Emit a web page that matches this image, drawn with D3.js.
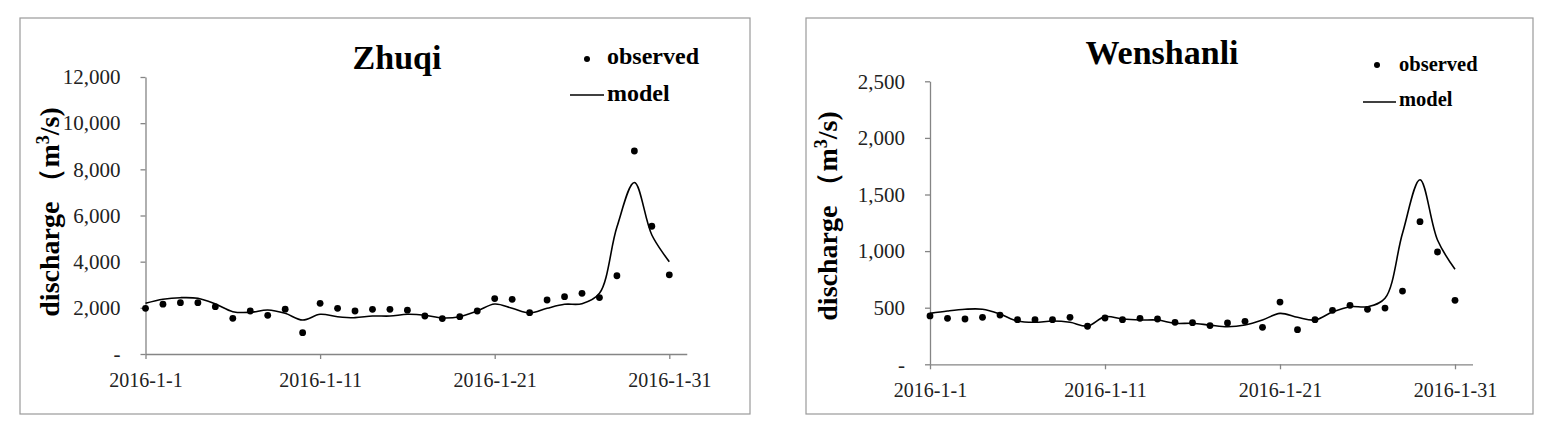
<!DOCTYPE html>
<html>
<head>
<meta charset="utf-8">
<script src="https://cdn.jsdelivr.net/npm/d3@7"></script>
<style>
  html, body { margin: 0; padding: 0; background: #fff; }
  svg { display: block; }
  text { font-family: "Liberation Serif", "Times New Roman", serif; }
</style>
</head>
<body>
<svg id="chart" width="1541" height="431"></svg>
<script>
// ---------- data ----------
const days = [1,2,3,4,5,6,7,8,9,10,11,12,13,14,15,16,17,18,19,20,21,22,23,24,25,26,27,28,29,30,31];
const xTickDays = [1, 11, 21, 31];
const xTickLabels = ["2016-1-1", "2016-1-11", "2016-1-21", "2016-1-31"];

const zhuqiTitle = "Zhuqi";
const zhuqiYTicks = [0, 2000, 4000, 6000, 8000, 10000, 12000];
const zhuqiObserved = [1980, 2160, 2225, 2225, 2050, 1545, 1863, 1675, 1940, 924,
                       2195, 1980, 1863, 1935, 1935, 1900, 1646, 1535, 1617, 1863,
                       2400, 2369, 1791, 2340, 2484, 2628, 2445, 3390, 8795, 5535, 3430];
const zhuqiModel    = [2195, 2369, 2440, 2412, 2166, 1834, 1805, 1906, 1762, 1473,
                       1719, 1617, 1574, 1646, 1646, 1719, 1680, 1560, 1617, 1863,
                       2166, 1979, 1775, 1979, 2152, 2180, 2628, 5500, 7430, 5156, 4000];

const wenshanliTitle = "Wenshanli";
const wenshanliYTicks = [0, 500, 1000, 1500, 2000, 2500];
const wenshanliObserved = [427, 406, 400, 415, 435, 394, 394, 394, 415, 336,
                           409, 394, 406, 400, 371, 368, 342, 365, 380, 327,
                           550, 306, 394, 477, 521, 486, 497, 647, 1260, 992, 565];
const wenshanliModel    = [450, 471, 486, 486, 444, 382, 371, 382, 371, 338,
                           421, 400, 391, 391, 362, 362, 346, 332, 347, 391,
                           450, 415, 391, 462, 509, 509, 583, 1157, 1630, 1098, 839];

const seriesNames = ["observed", "model"];

// ---------- drawing ----------
const svg = d3.select("#chart");

function drawChart(cfg) {
  const g = svg.append("g");

  // chart border
  g.append("rect")
    .attr("x", cfg.box[0]).attr("y", cfg.box[1])
    .attr("width", cfg.box[2] - cfg.box[0]).attr("height", cfg.box[3] - cfg.box[1])
    .attr("fill", "#fff").attr("stroke", "#9a9a9a").attr("stroke-width", 1.2);

  const x = d3.scaleLinear().domain([1, 32]).range([cfg.x0, cfg.x0 + 31 * cfg.dayW]);
  const y = d3.scaleLinear().domain([0, cfg.yTicks[cfg.yTicks.length - 1]]).range([cfg.yBottom, cfg.yTop]);

  // y axis
  const fmt = d3.format(",");
  const yAxis = g.append("g")
    .attr("transform", `translate(${cfg.x0},0)`)
    .call(d3.axisLeft(y).tickValues(cfg.yTicks).tickSize(5).tickSizeOuter(0).tickPadding(20)
      .tickFormat(v => v === 0 ? "-" : fmt(v)));
  yAxis.select(".domain").attr("stroke", "#858585").attr("stroke-width", 1.3);
  yAxis.selectAll(".tick line").attr("stroke", "#858585").attr("stroke-width", 1.3);
  yAxis.selectAll(".tick text").attr("font-family", "Liberation Serif").attr("font-size", 21).attr("fill", "#222");

  // x axis
  const xAxis = g.append("g")
    .attr("transform", `translate(0,${cfg.yBottom})`)
    .call(d3.axisBottom(x).tickValues(xTickDays).tickSize(5).tickSizeOuter(0).tickPadding(14)
      .tickFormat((d, i) => xTickLabels[i]));
  xAxis.select(".domain").attr("stroke", "#858585").attr("stroke-width", 1.3);
  xAxis.selectAll(".tick line").attr("stroke", "#858585").attr("stroke-width", 1.3);
  xAxis.selectAll(".tick text").attr("font-family", "Liberation Serif").attr("font-size", 20).attr("fill", "#222");

  // model line
  const line = d3.line()
    .x((d, i) => x(days[i]))
    .y(d => y(d))
    .curve(d3.curveCatmullRom.alpha(0.5));
  g.append("path")
    .datum(cfg.model)
    .attr("d", line)
    .attr("fill", "none").attr("stroke", "#000").attr("stroke-width", 1.6);

  // observed points
  g.selectAll("circle.obs")
    .data(cfg.observed)
    .join("circle")
    .attr("class", "obs")
    .attr("cx", (d, i) => x(days[i]))
    .attr("cy", d => y(d))
    .attr("r", 3.4)
    .attr("fill", "#000");

  // title
  g.append("text")
    .attr("x", cfg.titleX).attr("y", cfg.titleY)
    .attr("text-anchor", "middle")
    .attr("font-size", 34).attr("font-weight", "bold")
    .text(cfg.title);

  // y label
  const yl = g.append("text")
    .attr("transform", `translate(${cfg.ylabX},${cfg.ylabY}) rotate(-90)`)
    .attr("text-anchor", "middle")
    .attr("font-size", 28).attr("font-weight", "bold");
  yl.append("tspan").text("discharge");
  yl.append("tspan").attr("dx", 6).text("\uFF08");
  yl.append("tspan").text("m");
  yl.append("tspan").attr("baseline-shift", "super").attr("font-size", 18).text("3");
  yl.append("tspan").text("/s)");

  // legend
  const L = cfg.legend;
  g.append("circle").attr("cx", L.dotX).attr("cy", L.dotY).attr("r", 3).attr("fill", "#000");
  g.append("text").attr("x", L.textX).attr("y", L.obsY)
    .attr("font-size", L.size).attr("font-weight", "bold").text(seriesNames[0]);
  g.append("line").attr("x1", L.lineX1).attr("x2", L.lineX2).attr("y1", L.lineY).attr("y2", L.lineY)
    .attr("stroke", "#000").attr("stroke-width", 1.6);
  g.append("text").attr("x", L.textX).attr("y", L.modY)
    .attr("font-size", L.size).attr("font-weight", "bold").text(seriesNames[1]);
}

drawChart({
  box: [20, 18, 750, 414],
  x0: 145.5, dayW: 17.46, yBottom: 354, yTop: 77,
  yTicks: zhuqiYTicks, observed: zhuqiObserved, model: zhuqiModel,
  title: zhuqiTitle, titleX: 397, titleY: 69,
  ylabX: 59, ylabY: 212,
  legend: { dotX: 587, dotY: 59, textX: 607, obsY: 64, lineX1: 570, lineX2: 604, lineY: 95, modY: 101, size: 24 }
});

drawChart({
  box: [806, 18, 1533, 414],
  x0: 930, dayW: 17.5, yBottom: 364.3, yTop: 81.3,
  yTicks: wenshanliYTicks, observed: wenshanliObserved, model: wenshanliModel,
  title: wenshanliTitle, titleX: 1162, titleY: 64,
  ylabX: 837, ylabY: 216,
  legend: { dotX: 1377, dotY: 65, textX: 1399, obsY: 71, lineX1: 1363, lineX2: 1396, lineY: 102, modY: 106, size: 20.5 }
});
</script>
</body>
</html>
